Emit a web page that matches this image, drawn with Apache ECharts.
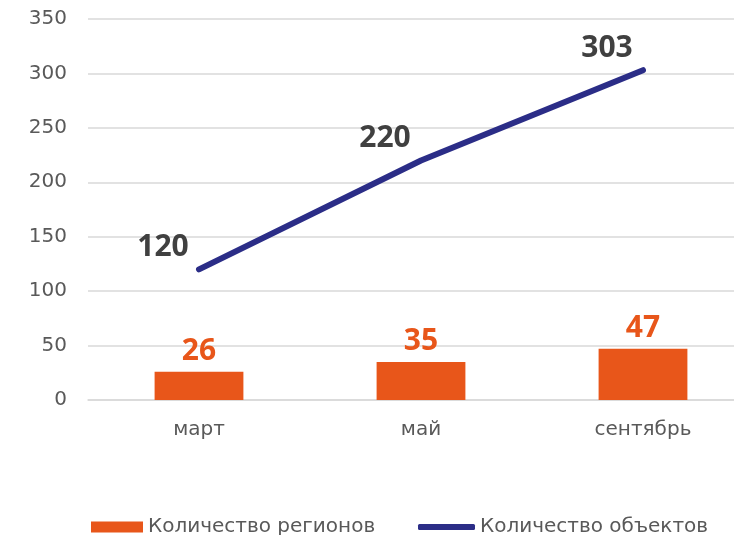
<!DOCTYPE html>
<html>
<head>
<meta charset="utf-8">
<script src="https://cdn.jsdelivr.net/npm/echarts@6/dist/echarts.min.js"></script>
<style>
  html, body { margin: 0; padding: 0; background: #fff; }
  #chart { width: 734px; height: 535px; }
</style>
</head>
<body>
<div id="chart"></div>
<script>
var months = ['март', 'май', 'сентябрь'];
var regions = [26, 35, 47];
var objects = [120, 220, 303];

var orange = '#E8561A';
var navy = '#2B2D87';
var font = 'DejaVu Sans';

var myChart = echarts.init(document.getElementById('chart'));
var option = {
    animation: false,
    textStyle: { fontFamily: font },
    // plot runs past the right edge, as in the picture
    grid: { left: 88, width: 666, top: 19, bottom: 135, outerBoundsMode: 'none', containLabel: false },
    legend: [{
        data: ['Количество регионов'],
        left: 86,
        top: 512,
        icon: 'rect',
        itemWidth: 52,
        itemHeight: 11,
        textStyle: { color: '#595959', fontSize: 20, fontFamily: font }
    }, {
        data: ['Количество объектов'],
        left: 413,
        top: 512,
        icon: 'roundRect',
        itemWidth: 57,
        itemHeight: 6,
        textStyle: { color: '#595959', fontSize: 20, fontFamily: font }
    }],
    xAxis: {
        type: 'category',
        data: months,
        axisLine: { lineStyle: { color: '#d9d9d9', width: 1.5 } },
        axisTick: { show: false },
        axisLabel: { color: '#595959', fontSize: 20, margin: 20, fontFamily: font }
    },
    yAxis: {
        type: 'value',
        min: 0,
        max: 350,
        interval: 50,
        axisLabel: { color: '#595959', fontSize: 20, margin: 21, fontFamily: font },
        splitLine: { lineStyle: { color: '#d9d9d9', width: 1.5 } }
    },
    series: [{
        name: 'Количество регионов',
        type: 'bar',
        data: regions,
        barWidth: '40%',
        itemStyle: { color: orange },
        label: {
            show: true,
            position: 'top',
            distance: 5,
            color: orange,
            fontSize: 30,
            fontWeight: 'bold',
            fontFamily: 'Open Sans'
        }
    }, {
        name: 'Количество объектов',
        type: 'line',
        data: objects,
        showSymbol: true,
        symbol: 'circle',
        symbolSize: 0,
        z: 5,
        lineStyle: { color: navy, width: 6, cap: 'round' },
        itemStyle: { color: navy },
        label: {
            show: true,
            position: 'top',
            distance: 5,
            offset: [-36, -2],
            color: '#404040',
            fontSize: 30,
            fontWeight: 'bold',
            fontFamily: 'Open Sans'
        }
    }]
};
myChart.setOption(option);
</script>
</body>
</html>
